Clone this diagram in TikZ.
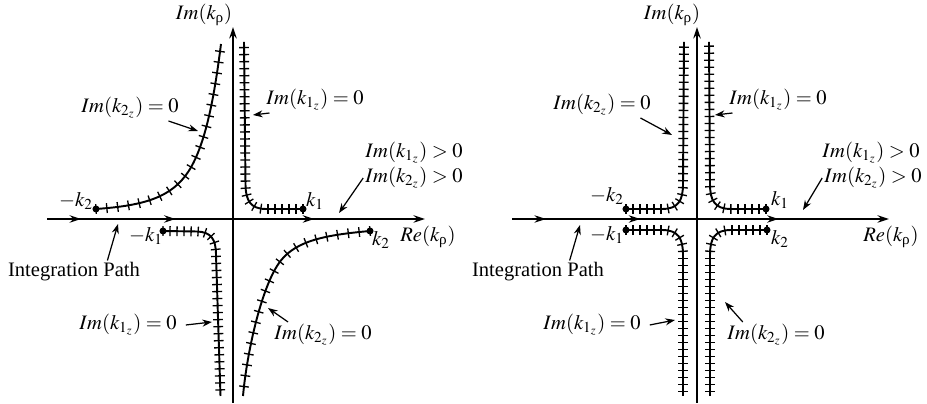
\documentclass[tikz,border=0pt]{standalone}
\usepackage{amsmath}
\usepackage{mathptmx}
\usepackage{fontspec}
\setmainfont{Liberation Serif}
\usepackage{tikz}
\usetikzlibrary{arrows.meta,decorations.markings}

\tikzset{
  axis/.style={line width=0.8pt,-{Stealth[length=6.5pt,width=4.2pt]},postaction={decorate},
    decoration={markings,
      mark=at position 0.09 with {\arrow{Stealth[length=6.5pt,width=4.2pt]}},
      mark=at position 0.34 with {\arrow{Stealth[length=6.5pt,width=4.2pt]}},
      mark=at position 0.707 with {\arrow{Stealth[length=6.5pt,width=4.2pt]}}}},
  cutline/.style={line width=1.1pt,postaction={decorate},
    decoration={markings,mark=between positions 0 and 1 step #1 with {\draw[line width=0.75pt] (0,-2.8pt) -- (0,2.8pt);}}},
  cutline/.default=4pt,
  pointer/.style={line width=0.7pt,-{Stealth[length=5.5pt,width=4pt]}},
  brpt/.style={circle,fill,inner sep=0pt,minimum size=4pt},
}

\begin{document}
\begin{tikzpicture}[x=0.02cm,y=-0.02cm,every node/.style={font=\fontsize{11.7}{14}\selectfont,inner sep=1pt}]
  \useasboundingbox (0,0) rectangle (927,404);

  % ---- left: lossy case, hyperbolic cuts
  \coordinate (oL) at (233,219);
  \draw[axis] (47,219) coordinate (wL) -- (425,219) coordinate (eL);
  \draw[line width=0.8pt,-{Stealth[length=6.5pt,width=4.2pt]}] (233,403) coordinate (sL) -- (233,27) coordinate (nL);
  \node (imL) at (204,15) {$Im(k_{\text{ρ}})$};
  \node (reL) at (428,237) {$Re(k_{\text{ρ}})$};

  \draw[cutline=6.2pt] (96,209) .. controls (146,205.5) and (171.8,196.7) .. (188.3,171.7)
    .. controls (207.6,142.5) and (215.9,83.7) .. (221,44);
  \draw[cutline=6.2pt] (370,231) .. controls (325,235) and (297.2,240.7) .. (281.3,260)
    .. controls (262.2,283.2) and (247,351.2) .. (243,396);
  \draw[cutline] (303,209) -- (266,209) .. controls (251,209) and (245.5,201) .. (245.5,184) -- (244,42);
  \draw[cutline] (163,231) -- (197,231.5) .. controls (211,232) and (216,239) .. (216,255) -- (220.5,396);

  \node[brpt] (mk2L) at (96,209) {};
  \node[brpt] (k2L) at (370,231) {};
  \node[brpt] (k1L) at (303,209) {};
  \node[brpt] (mk1L) at (163,231) {};
  \node (mk2Ltxt) at (76,201) {$-k_2$};
  \node (k1Ltxt) at (315,201) {$k_1$};
  \node (mk1Ltxt) at (146,236) {$-k_1$};
  \node (k2Ltxt) at (381,240) {$k_2$};

  \node (lA) at (130,108) {$Im(k_{2_z}) = 0$};
  \node (lB) at (315,100) {$Im(k_{1_z}) = 0$};
  \node (lC1) at (414,153) {$Im(k_{1_z}) > 0$};
  \node (lC2) at (414,178) {$Im(k_{2_z}) > 0$};
  \node (lD) at (74,272) {Integration Path};
  \node (lE) at (128,325) {$Im(k_{1_z}) = 0$};
  \node (lF) at (323,335) {$Im(k_{2_z}) = 0$};

  \coordinate (tA) at (198,131);
  \coordinate (tB) at (253,115);
  \coordinate (tC) at (339,213);
  \coordinate (tD) at (118,224);
  \coordinate (tE) at (212,322);
  \coordinate (tF) at (268,308);
  \draw[pointer] ([xshift=-7pt]lA.south east) -- (tA);
  \draw[pointer] ([xshift=3pt]lB.south west) -- (tB);
  \draw[pointer] (lC2.west) -- (tC);
  \draw[pointer] ([xshift=19pt]lD.north) -- (tD);
  \draw[pointer] ([xshift=4pt]lE.east) -- (tE);
  \draw[pointer] ([xshift=9pt]lF.north west) -- (tF);

  % ---- right: lossless limit, cuts hug the axis
  \coordinate (oR) at (697,219);
  \draw[axis] (512,219) coordinate (wR) -- (889,219) coordinate (eR);
  \draw[line width=0.8pt,-{Stealth[length=6.5pt,width=4.2pt]}] (697,403) coordinate (sR) -- (697,27) coordinate (nR);
  \node (imR) at (672,15) {$Im(k_{\text{ρ}})$};
  \node (reR) at (891,237) {$Re(k_{\text{ρ}})$};

  \draw[cutline] (766,209) -- (731,209) .. controls (715,209) and (710,201) .. (710,184) -- (709,42);
  \draw[cutline] (626,209) -- (662,209) .. controls (678,209) and (683,201) .. (683,184) -- (684,42);
  \draw[cutline] (626,230) -- (662,230) .. controls (678,230) and (683,238) .. (683,255) -- (683,396);
  \draw[cutline] (767,230) -- (731,230) .. controls (715,230) and (710,238) .. (710,255) -- (710,396);

  \node[brpt] (k1R) at (766,209) {};
  \node[brpt] (mk2R) at (626,209) {};
  \node[brpt] (mk1R) at (626,230) {};
  \node[brpt] (k2R) at (767,230) {};
  \node (mk2Rtxt) at (607,196) {$-k_2$};
  \node (k1Rtxt) at (780,200) {$k_1$};
  \node (mk1Rtxt) at (607,235) {$-k_1$};
  \node (k2Rtxt) at (780,239) {$k_2$};

  \node (rA) at (602,105) {$Im(k_{2_z}) = 0$};
  \node (rB) at (778,100) {$Im(k_{1_z}) = 0$};
  \node (rC1) at (871,153) {$Im(k_{1_z}) > 0$};
  \node (rC2) at (873,178) {$Im(k_{2_z}) > 0$};
  \node (rD) at (538,272) {Integration Path};
  \node (rE) at (592,325) {$Im(k_{1_z}) = 0$};
  \node (rF) at (776,335) {$Im(k_{2_z}) = 0$};

  \coordinate (uA) at (672,135);
  \coordinate (uB) at (715,115);
  \coordinate (uC) at (803,210);
  \coordinate (uD) at (580,225);
  \coordinate (uE) at (675,320);
  \coordinate (uF) at (725,302);
  \draw[pointer] ([xshift=-7pt]rA.south east) -- (uA);
  \draw[pointer] ([xshift=3pt]rB.south west) -- (uB);
  \draw[pointer] (rC2.west) -- (uC);
  \draw[pointer] ([xshift=18pt]rD.north) -- (uD);
  \draw[pointer] ([xshift=4pt]rE.east) -- (uE);
  \draw[pointer] ([xshift=10pt]rF.north west) -- (uF);
\end{tikzpicture}
\end{document}
